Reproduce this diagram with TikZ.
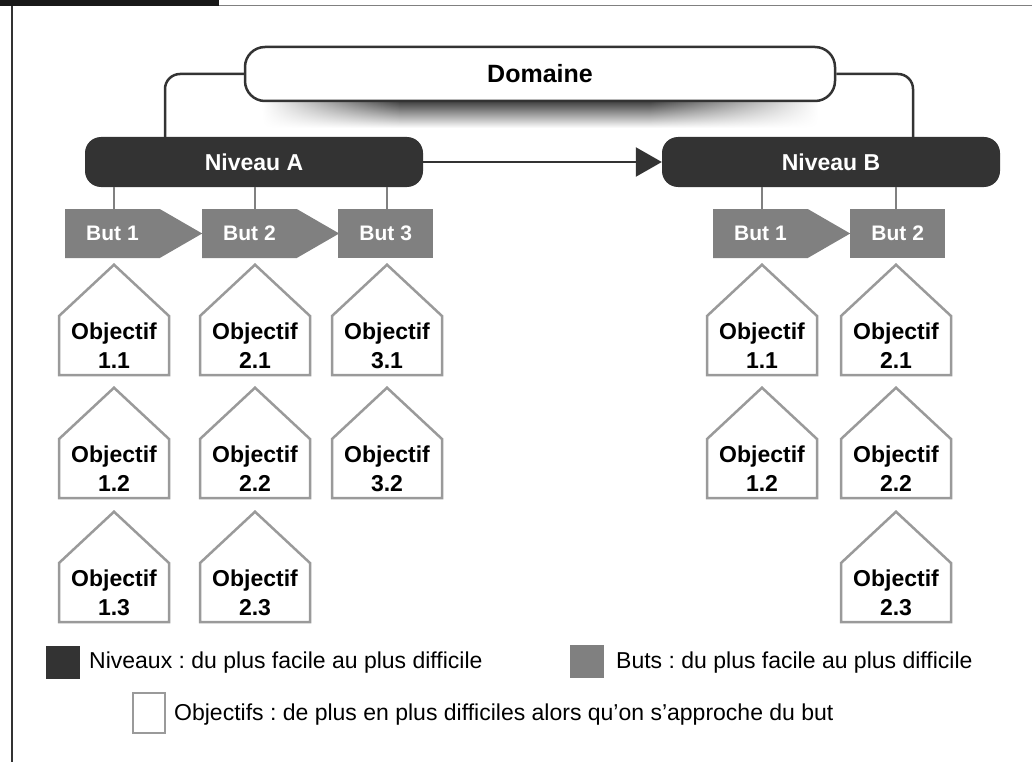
\documentclass[tikz,border=0pt]{standalone}
\usepackage{fontspec}
\setmainfont{Liberation Sans}
\usetikzlibrary{shapes.symbols}
\usetikzlibrary{arrows.meta}
\usetikzlibrary{calc}
\usetikzlibrary{fadings}

\definecolor{foncé}{HTML}{333333}
\definecolor{moyen}{HTML}{808080}
\definecolor{clair}{HTML}{9A9A9A}

\tikzfading[name=rampe gauche, left color=transparent!100, right color=transparent!0]
\tikzfading[name=rampe droite, left color=transparent!0, right color=transparent!100]

\tikzset{
    domaine/.style={draw=foncé, line width=2.5pt, fill=white, rounded corners=20pt, minimum width=590pt, minimum height=54pt, font=\fontsize{25}{29}\selectfont\bfseries},
    niveau/.style={fill=foncé, text=white, rounded corners=16pt, minimum width=338pt, minimum height=50pt, font=\fontsize{23}{27}\selectfont\bfseries},
    but/.style={fill=moyen, text=white, shape=signal, signal to=east, signal pointer angle=60, minimum width=137pt, minimum height=49pt, inner sep=0pt, anchor=west, font=\fontsize{21}{25}\selectfont\bfseries},
    butfin/.style={fill=moyen, text=white, rectangle, minimum width=95pt, minimum height=49pt, inner sep=0pt, anchor=west, font=\fontsize{21}{25}\selectfont\bfseries},
    objectif/.style={draw=clair, line width=2.5pt, fill=white, shape=signal, signal to=north, signal pointer angle=94, minimum width=110pt, minimum height=99pt, inner sep=0pt, align=center, anchor=north, font=\fontsize{23}{29}\selectfont\bfseries},
    ombre/.style={top color=black!75, bottom color=white},
    lien/.style={draw=foncé, line width=2.5pt, rounded corners=15pt},
    branche/.style={draw=moyen, line width=2pt},
    legende/.style={minimum width=34pt, minimum height=33pt, inner sep=0pt},
    legtexte/.style={anchor=west, inner sep=0pt, font=\fontsize{23}{27}\selectfont},
}

\begin{document}
\frenchspacing
\begin{tikzpicture}[x=1pt, y=-1pt]
    \useasboundingbox (0,0) rectangle (1032,762);
    \fill[black!90] (0,0) rectangle (219,6);
    \draw[moyen, line width=1pt] (219,5.5) -- (1032,5.5);
    \draw[foncé, line width=1.5pt] (12,6) -- (12,762);

    \shade[ombre, path fading=rampe gauche] (262,101) rectangle (400,128);
    \shade[ombre] (399.5,101) rectangle (650.5,128);
    \shade[ombre, path fading=rampe droite] (650,101) rectangle (818,128);
    \node[domaine] (domaine) at (540,74) {Domaine};

    \node[niveau] (niveauA) at (254,162) {Niveau A};
    \node[niveau] (niveauB) at (831,162) {Niveau B};
    \draw[lien] (domaine.west) -| ($(niveauA.north)+(-89,0)$);
    \draw[lien] (domaine.east) -| ($(niveauB.north)+(82,0)$);
    \draw[foncé, line width=2.5pt, -{Triangle[length=26pt, width=29pt]}] (niveauA) -- (niveauB);

    \node[but] (butA1) at (65,233.5) {But 1};
    \node[but] (butA2) at (202,233.5) {But 2};
    \node[butfin] (butA3) at (338,233.5) {But 3};
    \node[but] (butB1) at (713,233.5) {But 1};
    \node[butfin] (butB2) at (850,233.5) {But 2};

    \node[objectif] (objA11) at (114,263) {Objectif\\1.1};
    \node[objectif] (objA12) at (114,386) {Objectif\\1.2};
    \node[objectif] (objA13) at (114,510) {Objectif\\1.3};
    \node[objectif] (objA21) at (255,263) {Objectif\\2.1};
    \node[objectif] (objA22) at (255,386) {Objectif\\2.2};
    \node[objectif] (objA23) at (255,510) {Objectif\\2.3};
    \node[objectif] (objA31) at (387,263) {Objectif\\3.1};
    \node[objectif] (objA32) at (387,386) {Objectif\\3.2};
    \node[objectif] (objB11) at (762,263) {Objectif\\1.1};
    \node[objectif] (objB12) at (762,386) {Objectif\\1.2};
    \node[objectif] (objB21) at (896,263) {Objectif\\2.1};
    \node[objectif] (objB22) at (896,386) {Objectif\\2.2};
    \node[objectif] (objB23) at (896,510) {Objectif\\2.3};

    \draw[branche] (niveauA.south -| objA11.north) -- (butA1.north -| objA11.north);
    \draw[branche] (niveauA.south -| objA21.north) -- (butA2.north -| objA21.north);
    \draw[branche] (niveauA.south -| objA31.north) -- (butA3.north -| objA31.north);
    \draw[branche] (niveauB.south -| objB11.north) -- (butB1.north -| objB11.north);
    \draw[branche] (niveauB.south -| objB21.north) -- (butB2.north -| objB21.north);

    \node[legende, fill=foncé] (legNiveau) at (63,662.5) {};
    \node[legtexte] (txtNiveau) at (89,663) {Niveaux : du plus facile au plus difficile};
    \node[legende, fill=moyen] (legBut) at (586.5,661.5) {};
    \node[legtexte] (txtBut) at (616,663) {Buts : du plus facile au plus difficile};
    \node[legende, draw=clair, line width=2pt, minimum width=32pt, minimum height=40pt] (legObjectif) at (148.5,713) {};
    \node[legtexte] (txtObjectif) at (174,715) {Objectifs : de plus en plus difficiles alors qu’on s’approche du but};
\end{tikzpicture}
\end{document}
